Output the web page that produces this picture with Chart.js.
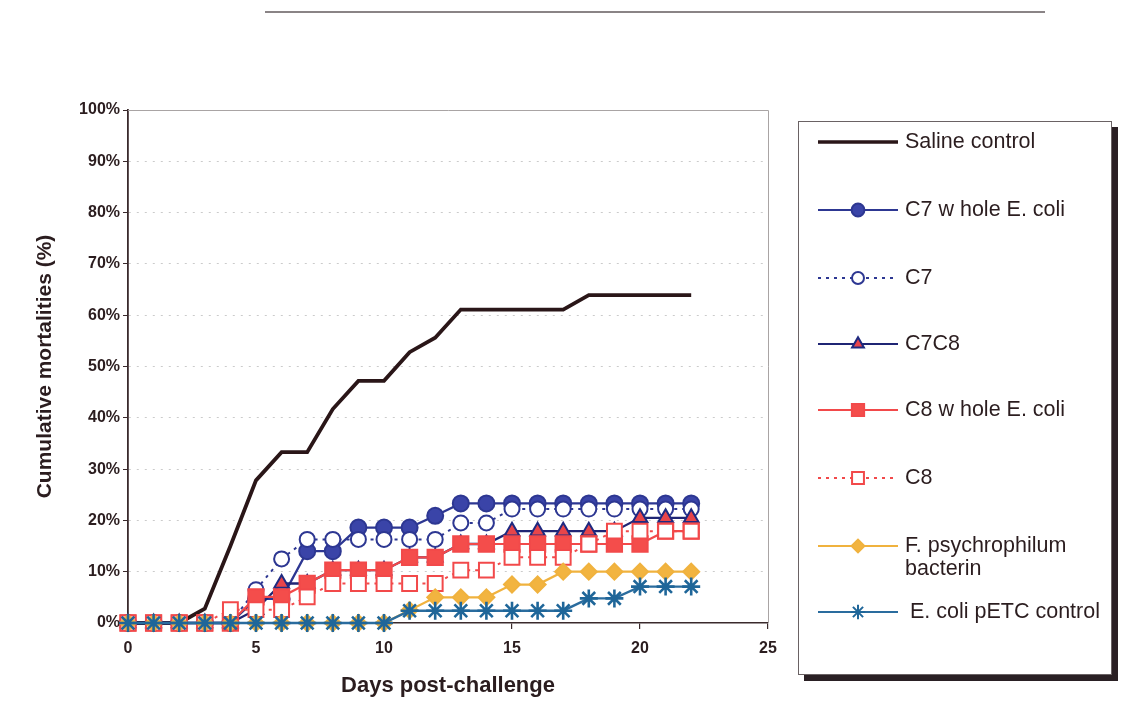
<!DOCTYPE html>
<html>
<head>
<meta charset="utf-8">
<title>Cumulative mortalities</title>
<style>
  html, body { margin: 0; padding: 0; background: #ffffff; }
  canvas { display: block; }
</style>
<script src="https://cdn.jsdelivr.net/npm/chart.js@4.4.1/dist/chart.umd.min.js"></script>
</head>
<body>
<canvas id="chart" width="1121" height="721"></canvas>
<script>
// Days after challenge
const days = [0, 1, 2, 3, 4, 5, 6, 7, 8, 9, 10, 11, 12, 13, 14, 15, 16, 17, 18, 19, 20, 21, 22];

// Cumulative mortalities (%) per group
const salineControl = [0, 0, 0, 2.8, 15, 27.8, 33.3, 33.3, 41.7, 47.2, 47.2, 52.8, 55.6, 61.1, 61.1, 61.1, 61.1, 61.1, 63.9, 63.9, 63.9, 63.9, 63.9];
const c7WholeEcoli  = [0, 0, 0, 0, 0, 4.7, 4.7, 14.0, 14.0, 18.6, 18.6, 18.6, 20.9, 23.3, 23.3, 23.3, 23.3, 23.3, 23.3, 23.3, 23.3, 23.3, 23.3];
const c7            = [0, 0, 0, 0, 0, 6.5, 12.5, 16.3, 16.3, 16.3, 16.3, 16.3, 16.3, 19.5, 19.5, 22.2, 22.2, 22.2, 22.2, 22.2, 22.2, 22.2, 22.2];
const c7c8          = [0, 0, 0, 0, 0, 2.6, 7.7, 7.7, 10.3, 10.3, 10.3, 12.8, 12.8, 15.4, 15.4, 17.9, 17.9, 17.9, 17.9, 17.9, 20.5, 20.5, 20.5];
const c8WholeEcoli  = [0, 0, 0, 0, 0, 5.1, 5.1, 7.7, 10.3, 10.3, 10.3, 12.8, 12.8, 15.4, 15.4, 15.4, 15.4, 15.4, 15.4, 15.4, 15.4, 17.9, 17.9];
const c8            = [0, 0, 0, 0, 2.6, 2.6, 2.6, 5.1, 7.7, 7.7, 7.7, 7.7, 7.7, 10.3, 10.3, 12.8, 12.8, 12.8, 15.4, 17.9, 17.9, 17.9, 17.9];
const fPsychBacterin = [0, 0, 0, 0, 0, 0, 0, 0, 0, 0, 0, 2.5, 5, 5, 5, 7.5, 7.5, 10, 10, 10, 10, 10, 10];
const ecoliPetc     = [0, 0, 0, 0, 0, 0, 0, 0, 0, 0, 0, 2.4, 2.4, 2.4, 2.4, 2.4, 2.4, 2.4, 4.8, 4.8, 7.1, 7.1, 7.1];

// Axis ticks
const xTicks = [0, 5, 10, 15, 20, 25];
const yTicks = [0, 10, 20, 30, 40, 50, 60, 70, 80, 90, 100];

// Legend labels (one or two text lines each)
const legendLabels = [
  ['Saline control'],
  ['C7 w hole E. coli'],
  ['C7'],
  ['C7C8'],
  ['C8 w hole E. coli'],
  ['C8'],
  ['F. psychrophilum', 'bacterin'],
  ['E. coli pETC control']
];

const TEXT = '#2b1d1f';
const FONT = "'Liberation Sans', Arial, Helvetica, sans-serif";
Chart.defaults.color = TEXT;
Chart.defaults.font.family = FONT;

const seriesValues = [salineControl, c7WholeEcoli, c7, c7c8, c8WholeEcoli, c8, fPsychBacterin, ecoliPetc];

const styles = [
  { line: '#2a1618', width: 3.8, dash: [], point: 'circle', radius: 0, fill: '#2a1618', border: '#2a1618' },
  { line: '#2d3792', width: 2.3, dash: [], point: 'circle', radius: 8, fill: '#3a44a8', border: '#2d3792' },
  { line: '#2d3792', width: 2, dash: [3, 5], point: 'circle', radius: 7.5, fill: '#ffffff', border: '#2d3792' },
  { line: '#1f2574', width: 2.3, dash: [], point: 'triangle', radius: 8.5, fill: '#e8454a', border: '#1f2a80' },
  { line: '#f2494a', width: 2.2, dash: [], point: 'rect', radius: 10.8, fill: '#f44d4b', border: '#f2494a' },
  { line: '#f2494a', width: 2, dash: [3, 5], point: 'rect', radius: 10.5, fill: '#ffffff', border: '#f2494a' },
  { line: '#f0b23e', width: 2.2, dash: [], point: 'rectRot', radius: 8, fill: '#f2b440', border: '#f0b23e' },
  { line: '#2a6c9e', width: 2.4, dash: [], point: 'star', radius: 9, fill: '#2a6c9e', border: '#1f6699' }
];

const datasets = seriesValues.map((vals, i) => {
  const s = styles[i];
  return {
    label: legendLabels[i].join(' '),
    data: days.map((d, k) => ({ x: d, y: vals[k] })),
    borderColor: s.line,
    borderWidth: s.width,
    borderDash: s.dash,
    pointStyle: s.point,
    pointRadius: s.radius,
    pointBackgroundColor: s.fill,
    pointBorderColor: s.border,
    pointBorderWidth: i === 7 ? 2.6 : 2,
    tension: 0,
    fill: false,
    clip: false,
    order: seriesValues.length - i
  };
});

// Plot-area frame, outer scan edge and the boxed legend with shadow
const decorations = {
  id: 'decorations',
  beforeDatasetsDraw(chart) {
    const { ctx, chartArea: a } = chart;
    ctx.save();
    ctx.strokeStyle = '#a9a4a4';
    ctx.lineWidth = 1;
    ctx.beginPath();
    ctx.moveTo(a.left, a.top + 0.5);
    ctx.lineTo(a.right + 0.5, a.top + 0.5);
    ctx.lineTo(a.right + 0.5, a.bottom);
    ctx.stroke();
    ctx.restore();
  },
  afterDraw(chart) {
    const ctx = chart.ctx;
    ctx.save();

    // outer top edge
    ctx.strokeStyle = '#8a8486';
    ctx.lineWidth = 2;
    ctx.beginPath();
    ctx.moveTo(265, 12);
    ctx.lineTo(1045, 12);
    ctx.stroke();

    // legend box
    const L = 798, T = 121, R = 1112, B = 675;
    ctx.fillStyle = '#2a2024';
    ctx.fillRect(R, T + 6, 6, B - T);
    ctx.fillRect(L + 6, B, R - L, 6);
    ctx.fillStyle = '#ffffff';
    ctx.fillRect(L, T, R - L, B - T);
    ctx.strokeStyle = '#6a6264';
    ctx.lineWidth = 1;
    ctx.strokeRect(L + 0.5, T + 0.5, R - L - 1, B - T - 1);

    const rows = [142, 210, 278, 344, 410, 478, 546, 612];
    const textX = [905, 905, 905, 905, 905, 905, 905, 910];
    ctx.font = '21.5px ' + FONT;
    ctx.textBaseline = 'middle';
    ctx.textAlign = 'left';
    styles.forEach((s, i) => {
      const y = rows[i];
      ctx.strokeStyle = s.line;
      ctx.lineWidth = i === 0 ? 3.5 : 2;
      ctx.setLineDash(s.dash);
      ctx.beginPath();
      ctx.moveTo(818, y);
      ctx.lineTo(898, y);
      ctx.stroke();
      ctx.setLineDash([]);
      if (s.radius > 0) {
        ctx.fillStyle = s.fill;
        ctx.strokeStyle = s.border;
        ctx.lineWidth = 2;
        Chart.helpers.drawPoint(ctx, { pointStyle: s.point, radius: s.radius * 0.8, borderWidth: 2, rotation: 0 }, 858, y);
      }
      ctx.fillStyle = TEXT;
      legendLabels[i].forEach((t, j) => ctx.fillText(t, textX[i], y + j * 23));
    });
    ctx.restore();
  }
};

new Chart(document.getElementById('chart'), {
  type: 'line',
  data: { datasets },
  plugins: [decorations],
  options: {
    responsive: false,
    animation: false,
    events: [],
    layout: { padding: { top: 110, right: 353, left: 0, bottom: 0 } },
    plugins: { legend: { display: false }, tooltip: { enabled: false } },
    scales: {
      x: {
        type: 'linear',
        min: xTicks[0],
        max: xTicks[xTicks.length - 1],
        afterBuildTicks: s => { s.ticks = xTicks.map(v => ({ value: v })); },
        afterFit: s => { s.height = 98; },
        ticks: { font: { size: 16, weight: 'bold' }, color: TEXT, padding: 10, maxRotation: 0 },
        grid: { drawOnChartArea: false, tickLength: 6, color: '#3a2a2c', tickColor: '#3a2a2c', lineWidth: 1.2 },
        border: { color: '#3a2a2c', width: 1.6 },
        title: { display: true, text: 'Days post-challenge', font: { size: 22, weight: 'bold' }, color: TEXT, padding: { top: 0, bottom: 22 } }
      },
      y: {
        min: yTicks[0],
        max: yTicks[yTicks.length - 1],
        afterBuildTicks: s => { s.ticks = yTicks.map(v => ({ value: v })); },
        afterFit: s => { s.width = 128; },
        ticks: { font: { size: 16, weight: 'bold' }, color: TEXT, padding: 3, callback: v => v + '%' },
        grid: {
          color: ctx => (ctx.tick && (ctx.tick.value === 0 || ctx.tick.value === 100)) ? 'rgba(0,0,0,0)' : 'rgba(140,140,140,0.45)',
          lineWidth: 1,
          tickLength: 5,
          tickColor: '#3a2a2c',
          tickBorderDash: []
        },
        border: { color: '#3a2a2c', width: 1.8, dash: [2, 6] },
        title: { display: true, text: 'Cumulative mortalities (%)', font: { size: 21, weight: 'bold' }, color: TEXT, padding: { top: 33, bottom: 0 } }
      }
    }
  }
});
</script>
</body>
</html>
